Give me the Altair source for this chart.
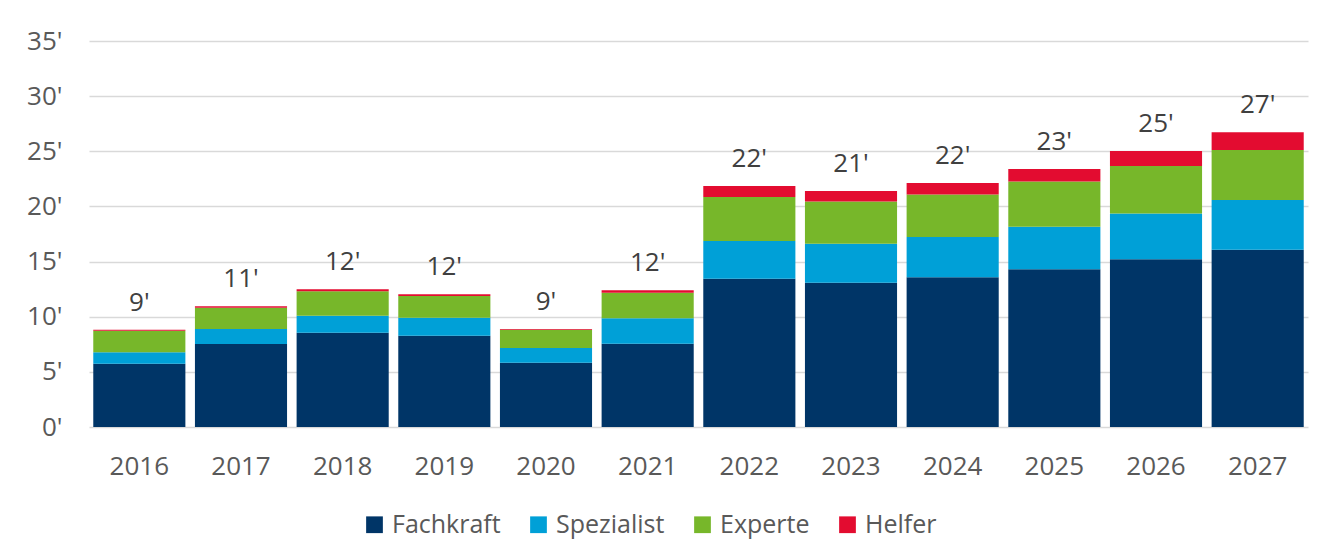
import altair as alt
import pandas as pd

years = ["2016", "2017", "2018", "2019", "2020", "2021", "2022", "2023", "2024", "2025", "2026", "2027"]
fachkraft = [5.74, 7.52, 8.55, 8.28, 5.83, 7.55, 13.45, 13.09, 13.57, 14.30, 15.20, 16.07]
spezialist = [1.03, 1.36, 1.54, 1.63, 1.33, 2.30, 3.41, 3.53, 3.65, 3.86, 4.17, 4.51]
experte = [1.96, 1.94, 2.21, 1.97, 1.66, 2.33, 3.99, 3.83, 3.87, 4.11, 4.29, 4.53]
helfer = [0.09, 0.12, 0.18, 0.15, 0.06, 0.21, 1.00, 0.95, 1.03, 1.12, 1.36, 1.61]

categories = ["Fachkraft", "Spezialist", "Experte", "Helfer"]
colors = ["#003567", "#00A0D7", "#77B72A", "#E30C30"]
y_ticks = [0, 5, 10, 15, 20, 25, 30, 35]

series = [fachkraft, spezialist, experte, helfer]
rows = []
for ci, (cat, vals) in enumerate(zip(categories, series)):
    for y, v in zip(years, vals):
        rows.append({"Jahr": y, "Kategorie": cat, "Wert": v, "idx": ci})
df = pd.DataFrame(rows)

FONT = "Open Sans"
TXT = "#595959"

base = alt.Chart(df)

bars = base.mark_bar().encode(
    x=alt.X(
        "Jahr:N",
        sort=years,
        scale=alt.Scale(paddingInner=0.094, paddingOuter=0.042),
        axis=alt.Axis(
            title=None, labelAngle=0, ticks=False, tickSize=0, domain=False,
            grid=False, labelPadding=26, labelFontSize=26,
        ),
    ),
    y=alt.Y(
        "Wert:Q",
        stack="zero",
        scale=alt.Scale(domain=[0, 35], nice=False),
        axis=alt.Axis(
            title=None, values=y_ticks, labelExpr="datum.value + \"'\"",
            ticks=False, tickSize=0, domain=False, grid=True,
            gridColor="#d9d9d9", gridWidth=1.3, labelPadding=27,
            labelFontSize=26,
        ),
    ),
    color=alt.Color(
        "Kategorie:N",
        scale=alt.Scale(domain=categories, range=colors),
        legend=alt.Legend(
            title=None, orient="none", legendX=273, legendY=471,
            direction="horizontal", symbolType="square", symbolSize=280,
            symbolStrokeWidth=0, labelFontSize=25, labelOffset=5,
            columnPadding=25, labelLimit=400, padding=0,
        ),
    ),
    order=alt.Order("idx:Q", sort="ascending"),
)

labels = base.transform_aggregate(
    total="sum(Wert)", groupby=["Jahr"]
).transform_calculate(
    label="format(datum.total, '.0f') + \"'\""
).mark_text(
    dy=-19, baseline="alphabetic", fontSize=26, color="#404040", font=FONT
).encode(
    x=alt.X("Jahr:N", sort=years),
    y=alt.Y("total:Q"),
    text="label:N",
)

chart = alt.layer(bars, labels).properties(
    width=1219,
    height=386,
    padding={"left": 81, "top": 33, "right": 17, "bottom": 125},
    autosize=alt.AutoSizeParams(type="none"),
    background="white",
).configure_view(
    stroke=None
).configure_axis(
    labelFont=FONT, labelColor=TXT
).configure_legend(
    labelFont=FONT, labelColor=TXT
)

chart.save("out.html", embed_options={"renderer": "svg", "actions": False})
